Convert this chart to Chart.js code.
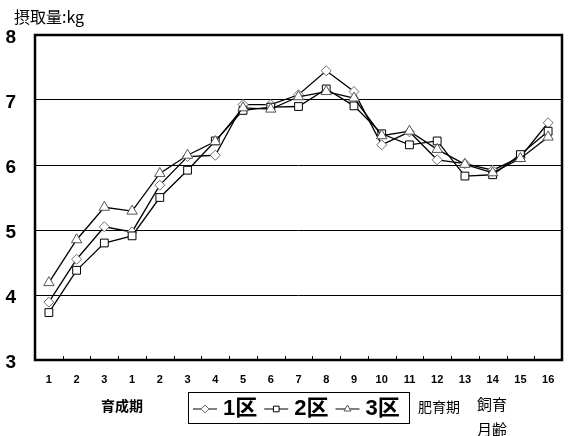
<!DOCTYPE html>
<html>
<head>
<meta charset="utf-8">
<script src="https://cdn.jsdelivr.net/npm/chart.js@4/dist/chart.umd.min.js"></script>
<style>
  html, body { margin: 0; padding: 0; background: #fff; }
  #wrap { width: 569px; height: 436px; }
</style>
</head>
<body>
<div id="wrap"><canvas id="c" width="569" height="436"></canvas></div>
<script>
// Age in months: rearing period 1-3, then fattening period 1-16
const monthLabels = ['1','2','3','1','2','3','4','5','6','7','8','9','10','11','12','13','14','15','16'];
const seriesNames = ['1区', '2区', '3区'];

// Daily feed intake (kg) per plot
const intake1 = [3.89, 4.55, 5.05, 4.97, 5.69, 6.13, 6.15, 6.93, 6.93, 7.08, 7.45, 7.13, 6.31, 6.51, 6.08, 6.02, 5.92, 6.12, 6.65];
const intake2 = [3.73, 4.38, 4.80, 4.91, 5.50, 5.92, 6.37, 6.84, 6.89, 6.90, 7.17, 6.91, 6.48, 6.31, 6.37, 5.83, 5.85, 6.16, 6.52];
const intake3 = [4.19, 4.85, 5.35, 5.29, 5.87, 6.15, 6.36, 6.88, 6.86, 7.05, 7.13, 7.03, 6.45, 6.52, 6.24, 6.01, 5.88, 6.10, 6.43];

const yMin = 3, yMax = 8, yStep = 1;

const markerStyles = [
  { pointStyle: 'rectRot',  radius: 5,   border: '#707070' },
  { pointStyle: 'rect',     radius: 5.5, border: '#000000' },
  { pointStyle: 'triangle', radius: 6,   border: '#555555' }
];

const seriesValues = [intake1, intake2, intake3];

const datasets = seriesValues.map((vals, i) => ({
  label: seriesNames[i],
  data: vals,
  borderColor: '#000',
  borderWidth: 1.3,
  pointStyle: markerStyles[i].pointStyle,
  pointRadius: markerStyles[i].radius,
  pointHoverRadius: markerStyles[i].radius,
  pointBorderColor: markerStyles[i].border,
  pointBackgroundColor: '#fff',
  pointBorderWidth: 1,
  order: 2 - i,
  tension: 0,
  clip: false
}));

const CJK = "'Noto Sans CJK JP', 'Noto Sans', sans-serif";

// Frame, inner tick marks, title, legend and footnotes
const decorations = {
  id: 'decorations',
  beforeDatasetsDraw(chart) {
    const { ctx, chartArea: a } = chart;
    ctx.save();
    ctx.strokeStyle = '#000';
    ctx.lineWidth = 2.5;
    ctx.strokeRect(a.left, a.top, a.right - a.left, a.bottom - a.top);
    // small inner tick marks at category boundaries
    const xs = chart.scales.x;
    const n = monthLabels.length;
    const w = (a.right - a.left) / n;
    ctx.lineWidth = 1;
    for (let i = 1; i < n; i++) {
      const x = Math.round(xs.getPixelForValue(i) - w / 2) + 0.5;
      ctx.beginPath();
      ctx.moveTo(x, a.bottom);
      ctx.lineTo(x, a.bottom - 4);
      ctx.stroke();
    }
    ctx.restore();
  },
  afterDraw(chart) {
    const { ctx } = chart;
    ctx.save();
    ctx.fillStyle = '#000';
    ctx.textBaseline = 'middle';

    // axis title
    ctx.textAlign = 'left';
    ctx.font = '16px ' + CJK;
    ctx.fillText('摂取量:kg', 14, 17);

    // period labels
    ctx.font = 'bold 14px ' + CJK;
    ctx.textAlign = 'center';
    ctx.fillText('育成期', 122, 406);
    ctx.font = '14px ' + CJK;
    ctx.textAlign = 'left';
    ctx.fillText('肥育期', 418, 407);
    ctx.font = '15px ' + CJK;
    ctx.fillText('飼育', 477, 404);
    ctx.fillText('月齢', 477, 429);

    // legend box
    ctx.strokeStyle = '#000';
    ctx.lineWidth = 1;
    ctx.strokeRect(188.5, 392.5, 221, 31);
    let x = 193;
    const y = 409;
    ctx.font = "bold 22px 'Liberation Sans', " + CJK;
    chart.data.datasets.forEach((ds, i) => {
      ctx.strokeStyle = '#000';
      ctx.lineWidth = 1;
      ctx.beginPath();
      ctx.moveTo(x, y);
      ctx.lineTo(x + 24, y);
      ctx.stroke();
      ctx.strokeStyle = markerStyles[i].border;
      ctx.fillStyle = '#fff';
      Chart.helpers.drawPoint(ctx, {
        pointStyle: markerStyles[i].pointStyle,
        radius: 4,
        rotation: 0,
        borderWidth: 1
      }, x + 12, y);
      ctx.fillStyle = '#000';
      ctx.textAlign = 'left';
      ctx.fillText(ds.label, x + 30, y);
      x += 30 + ctx.measureText(ds.label).width + 7;
    });
    ctx.restore();
  }
};

new Chart(document.getElementById('c'), {
  type: 'line',
  data: { labels: monthLabels, datasets },
  plugins: [decorations],
  options: {
    responsive: false,
    animation: false,
    layout: { padding: { left: 0, right: 4, top: 35, bottom: 0 } },
    plugins: {
      legend: { display: false },
      tooltip: { enabled: false },
      title: { display: false }
    },
    scales: {
      x: {
        type: 'category',
        offset: true,
        grid: { display: false, drawTicks: false },
        border: { display: false },
        ticks: {
          color: '#000',
          padding: 13,
          maxRotation: 0,
          autoSkip: false,
          font: { family: "'Liberation Sans Narrow', 'Liberation Sans', sans-serif", size: 11, weight: 'bold' }
        },
        afterFit(scale) { scale.height = 76; }
      },
      y: {
        min: yMin,
        max: yMax,
        grid: { color: '#000', lineWidth: 1, drawTicks: false },
        border: { display: false },
        ticks: {
          stepSize: yStep,
          color: '#000',
          padding: 19,
          labelOffset: 3,
          font: { family: "'Liberation Sans', sans-serif", size: 19, weight: 'bold' }
        },
        afterFit(scale) { scale.width = 35; }
      }
    }
  }
});
</script>
</body>
</html>
